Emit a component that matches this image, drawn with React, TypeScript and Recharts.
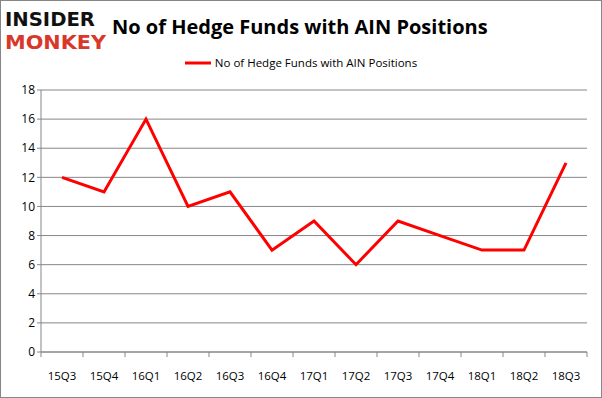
import React from 'react';
import { LineChart, Line, XAxis, YAxis, CartesianGrid } from 'recharts';

const quarters = ['15Q3', '15Q4', '16Q1', '16Q2', '16Q3', '16Q4', '17Q1', '17Q2', '17Q3', '17Q4', '18Q1', '18Q2', '18Q3'];
const funds = [12, 11, 16, 10, 11, 7, 9, 6, 9, 8, 7, 7, 13];
const yTicks = [0, 2, 4, 6, 8, 10, 12, 14, 16, 18];

const seriesName = 'No of Hedge Funds with AIN Positions';
const font = '"Open Sans", "Liberation Sans", sans-serif';

const data = quarters.map((q, i) => ({ q, v: funds[i] }));

// category labels; tick marks sit between categories like the original
const XTick = (props: any) => {
  const { x, y, payload, index } = props;
  const half = 21;
  return (
    <g>
      {index === 0 && <line x1={x - half} x2={x - half} y1={y - 8} y2={y - 3} stroke="#868686" />}
      <line x1={x + half} x2={x + half} y1={y - 8} y2={y - 3} stroke="#868686" />
      <text x={x} y={y + 20} textAnchor="middle" fontSize={11.5} fill="#000" fontFamily={font}>
        {payload.value}
      </text>
    </g>
  );
};

export default function App() {
  return (
    <div style={{ position: 'absolute', left: 0, top: 0, width: 602, height: 398, background: '#fff' }}>
      <div style={{ position: 'absolute', left: 0, top: 0, width: 600, height: 396, border: '1px solid #868686' }} />
      <svg style={{ position: 'absolute', left: 4, top: 8 }} width={104} height={46}>
        <text x={1} y={18} fontFamily='"DejaVu Sans", sans-serif' fontWeight={900} fontSize={20} fill="#111" textLength={90} lengthAdjust="spacingAndGlyphs">
          INSIDER
        </text>
        <text x={1} y={41} fontFamily='"DejaVu Sans", sans-serif' fontWeight={900} fontSize={20} fill="#d9372a" textLength={101} lengthAdjust="spacingAndGlyphs">
          MONKEY
        </text>
      </svg>
      <div
        style={{
          position: 'absolute',
          left: 112,
          top: 13,
          fontFamily: font,
          fontWeight: 700,
          fontSize: 20,
          color: '#000',
          whiteSpace: 'nowrap',
        }}
      >
        {seriesName}
      </div>
      <div
        style={{
          position: 'absolute',
          left: 0,
          top: 55,
          width: 602,
          display: 'flex',
          justifyContent: 'center',
          alignItems: 'center',
          fontFamily: font,
          fontSize: 11.5,
        }}
      >
        <svg width={30} height={14}>
          <line x1={0} x2={26} y1={7} y2={7} stroke="#ff0000" strokeWidth={3} />
        </svg>
        <span>{seriesName}</span>
      </div>
      <LineChart
        style={{ position: 'absolute', left: 0, top: 0 }}
        width={602}
        height={398}
        data={data}
        margin={{ top: 90, right: 15, bottom: 16, left: 8 }}
      >
        <CartesianGrid vertical={false} stroke="#868686" />
        <XAxis
          dataKey="q"
          padding={{ left: 21, right: 21 }}
          stroke="#868686"
          tickLine={false}
          tick={<XTick />}
          height={30}
          interval={0}
        />
        <YAxis
          domain={[0, 18]}
          ticks={yTicks}
          stroke="#868686"
          tickSize={4}
          tick={{ fill: '#000', fontSize: 12, fontFamily: font }}
          width={33}
          interval={0}
        />
        <Line dataKey="v" name={seriesName} stroke="#ff0000" strokeWidth={3} dot={false} isAnimationActive={false} />
      </LineChart>
    </div>
  );
}
